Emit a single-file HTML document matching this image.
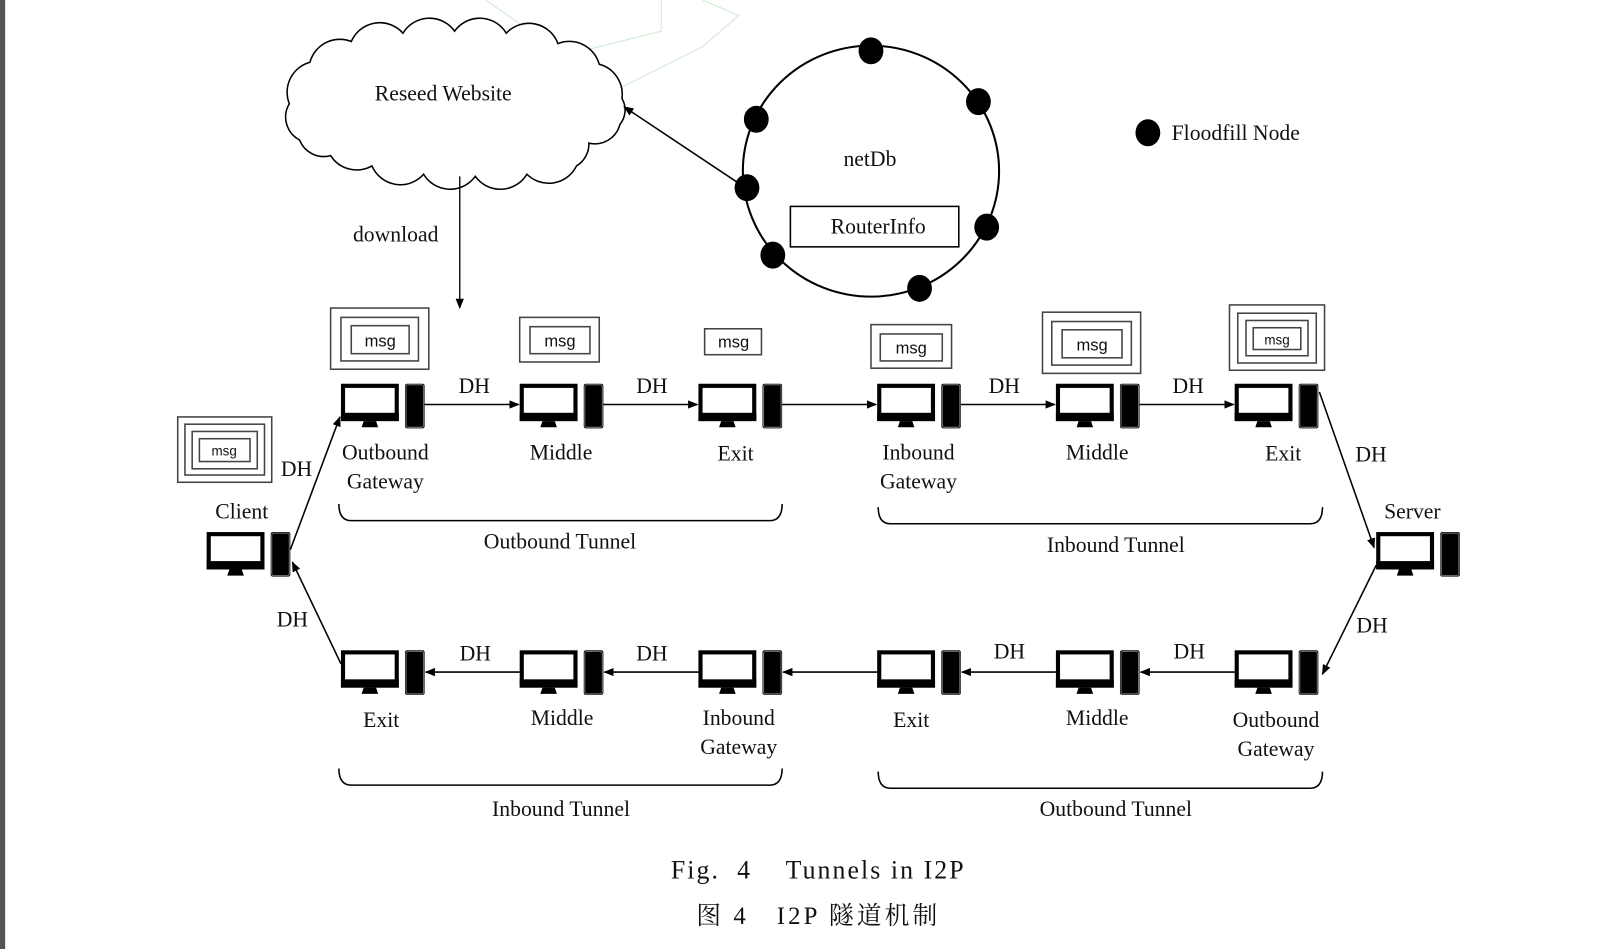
<!DOCTYPE html>
<html><head><meta charset="utf-8"><style>
html,body{margin:0;padding:0;background:#fff;width:1619px;height:949px;overflow:hidden}
svg{display:block}
text{font-family:"Liberation Serif","Noto Serif CJK SC",serif;fill:#111}
</style></head><body>
<svg width="1619" height="949" viewBox="0 0 1567 915" preserveAspectRatio="none" xmlns="http://www.w3.org/2000/svg">
<defs>
<marker id="ah" viewBox="0 0 10 10" refX="9" refY="5" markerWidth="10" markerHeight="10" markerUnits="userSpaceOnUse" orient="auto"><path d="M0,1 L10,5 L0,9 z" fill="#000"/></marker>
<g id="pc">
<rect x="2" y="2" width="52" height="32" fill="#fff" stroke="#000" stroke-width="4"/>
<rect x="0" y="28" width="56" height="8" fill="#000"/>
<path d="M22,36 L34,36 L36,42 L20,42 z" fill="#000"/>
<rect x="62" y="0" width="19" height="43" rx="2" fill="#000"/>
<rect x="63" y="1" width="17" height="41" rx="2" fill="none" stroke="#777" stroke-width="1"/>
</g>
</defs>
<rect x="0" y="0" width="5" height="915" fill="#555"/>
<g stroke="#cfe8cf" stroke-width="1" fill="none">
<path d="M470,0 L600,90 M640,0 L640,30 L560,50 M680,0 L715,15 L680,45 L600,85"/>
</g>
<!-- cloud -->
<path d="M280,100 A30,30 0 0 1 300,60 A30,30 0 0 1 340,40 A30,30 0 0 1 390,32 A30,30 0 0 1 440,30 A30,30 0 0 1 490,32 A30,30 0 0 1 540,42 A30,30 0 0 1 580,62 A30,30 0 0 1 602,95 A22,22 0 0 1 600,120 A25,25 0 0 1 570,138 A25,25 0 0 1 558,160 A30,30 0 0 1 510,168 A30,30 0 0 1 460,170 A30,30 0 0 1 410,168 A30,30 0 0 1 360,160 A30,30 0 0 1 320,150 A25,25 0 0 1 290,135 A25,25 0 0 1 280,100 z" fill="#fff" stroke="#000" stroke-width="1.5"/>
<text x="429" y="97" font-size="21" text-anchor="middle">Reseed Website</text>
<line x1="445" y1="170" x2="445" y2="297" stroke="#000" stroke-width="1.3" marker-end="url(#ah)"/>
<text x="383" y="233" font-size="21" text-anchor="middle">download</text>
<!-- netDb -->
<ellipse cx="843" cy="165" rx="124" ry="121" fill="none" stroke="#000" stroke-width="2"/>
<line x1="720" y1="180" x2="604" y2="103" stroke="#000" stroke-width="1.5" marker-end="url(#ah)"/>
<g fill="#000">
<ellipse cx="843" cy="49" rx="12" ry="13"/><ellipse cx="947" cy="98" rx="12" ry="13"/>
<ellipse cx="732" cy="115" rx="12" ry="13"/><ellipse cx="723" cy="181" rx="12" ry="13"/>
<ellipse cx="955" cy="219" rx="12" ry="13"/><ellipse cx="748" cy="246" rx="12" ry="13"/>
<ellipse cx="890" cy="278" rx="12" ry="13"/><ellipse cx="1111" cy="128" rx="12" ry="13"/>
</g>
<text x="842" y="160" font-size="21" text-anchor="middle">netDb</text>
<rect x="765" y="199" width="163" height="39" fill="#fff" stroke="#000" stroke-width="1.5"/>
<text x="850" y="225" font-size="21" text-anchor="middle">RouterInfo</text>
<text x="1134" y="135" font-size="21">Floodfill Node</text>
<!-- msg boxes -->
<g fill="none" stroke="#444" stroke-width="1.5">
<rect x="320" y="297" width="95" height="59"/><rect x="330" y="306" width="75" height="42"/><rect x="340" y="314" width="56" height="27"/>
<rect x="503" y="306" width="77" height="43"/><rect x="513" y="315" width="58" height="26"/>
<rect x="682" y="317" width="55" height="25"/>
<rect x="843" y="313" width="78" height="42"/><rect x="852" y="322" width="60" height="26"/>
<rect x="1009" y="301" width="95" height="59"/><rect x="1018" y="310" width="77" height="42"/><rect x="1028" y="318" width="58" height="27"/>
<rect x="1190" y="294" width="92" height="63"/><rect x="1198" y="302" width="76" height="48"/><rect x="1206" y="309" width="60" height="34"/><rect x="1213" y="316" width="46" height="21"/>
<rect x="172" y="402" width="91" height="63"/><rect x="179" y="409" width="77" height="49"/><rect x="186" y="416" width="63" height="36"/><rect x="193" y="423" width="49" height="22"/>
</g>
<g font-size="16" text-anchor="middle">
<text x="368" y="334" style="font-family:'Liberation Sans',sans-serif">msg</text>
<text x="542" y="334" style="font-family:'Liberation Sans',sans-serif">msg</text>
<text x="710" y="335" style="font-family:'Liberation Sans',sans-serif">msg</text>
<text x="882" y="341" style="font-family:'Liberation Sans',sans-serif">msg</text>
<text x="1057" y="338" style="font-family:'Liberation Sans',sans-serif">msg</text>
<text x="1236" y="332" font-size="13" style="font-family:'Liberation Sans',sans-serif">msg</text>
<text x="217" y="439" font-size="13" style="font-family:'Liberation Sans',sans-serif">msg</text>
</g>
<!-- computers -->
<use href="#pc" x="330" y="370"/><use href="#pc" x="503" y="370"/><use href="#pc" x="676" y="370"/>
<use href="#pc" x="849" y="370"/><use href="#pc" x="1022" y="370"/><use href="#pc" x="1195" y="370"/>
<use href="#pc" x="330" y="627"/><use href="#pc" x="503" y="627"/><use href="#pc" x="676" y="627"/>
<use href="#pc" x="849" y="627"/><use href="#pc" x="1022" y="627"/><use href="#pc" x="1195" y="627"/>
<use href="#pc" x="200" y="513"/><use href="#pc" x="1332" y="513"/>
<!-- arrows -->
<g stroke="#000" stroke-width="1.5" marker-end="url(#ah)">
<line x1="411" y1="390" x2="502" y2="390"/><line x1="584" y1="390" x2="675" y2="390"/>
<line x1="757" y1="390" x2="848" y2="390"/><line x1="930" y1="390" x2="1021" y2="390"/>
<line x1="1103" y1="390" x2="1194" y2="390"/>
<line x1="1022" y1="648" x2="931" y2="648"/><line x1="1195" y1="648" x2="1104" y2="648"/>
<line x1="849" y1="648" x2="758" y2="648"/><line x1="676" y1="648" x2="585" y2="648"/>
<line x1="503" y1="648" x2="412" y2="648"/>
<line x1="281" y1="530" x2="329" y2="402"/>
<line x1="1277" y1="378" x2="1330" y2="528"/>
<line x1="1332" y1="545" x2="1280" y2="650"/>
<line x1="330" y1="640" x2="283" y2="542"/>
</g>
<!-- labels -->
<g font-size="21" text-anchor="middle" transform="translate(0,-2)">
<text x="459" y="381">DH</text><text x="631" y="381">DH</text><text x="972" y="381">DH</text><text x="1150" y="381">DH</text>
<text x="287" y="461">DH</text><text x="1327" y="447">DH</text><text x="283" y="606">DH</text><text x="1328" y="612">DH</text>
<text x="460" y="639">DH</text><text x="631" y="639">DH</text><text x="977" y="637">DH</text><text x="1151" y="637">DH</text>
<text x="373" y="445">Outbound</text><text x="373" y="473">Gateway</text>
<text x="543" y="445">Middle</text><text x="712" y="446">Exit</text>
<text x="889" y="445">Inbound</text><text x="889" y="473">Gateway</text>
<text x="1062" y="445">Middle</text><text x="1242" y="446">Exit</text>
<text x="234" y="502">Client</text><text x="1367" y="502">Server</text>
<text x="369" y="703">Exit</text><text x="544" y="701">Middle</text>
<text x="715" y="701">Inbound</text><text x="715" y="729">Gateway</text>
<text x="882" y="703">Exit</text><text x="1062" y="701">Middle</text>
<text x="1235" y="703">Outbound</text><text x="1235" y="731">Gateway</text>
<text x="542" y="531">Outbound Tunnel</text><text x="1080" y="534">Inbound Tunnel</text>
<text x="543" y="789">Inbound Tunnel</text><text x="1080" y="789">Outbound Tunnel</text>
</g>
<g fill="none" stroke="#000" stroke-width="1.5">
<path d="M328,486 Q328,502 340,502 L745,502 Q757,502 757,486"/>
<path d="M850,489 Q850,505 862,505 L1268,505 Q1280,505 1280,489"/>
<path d="M328,741 Q328,757 340,757 L745,757 Q757,757 757,741"/>
<path d="M850,744 Q850,760 862,760 L1268,760 Q1280,760 1280,744"/>
</g>
<text x="792" y="847" font-size="25" letter-spacing="2" text-anchor="middle" xml:space="preserve">Fig.  4    Tunnels in I2P</text>
<text x="792" y="891" font-size="24" letter-spacing="3" text-anchor="middle" xml:space="preserve">图 4   I2P 隧道机制</text>
</svg>
</body></html>
